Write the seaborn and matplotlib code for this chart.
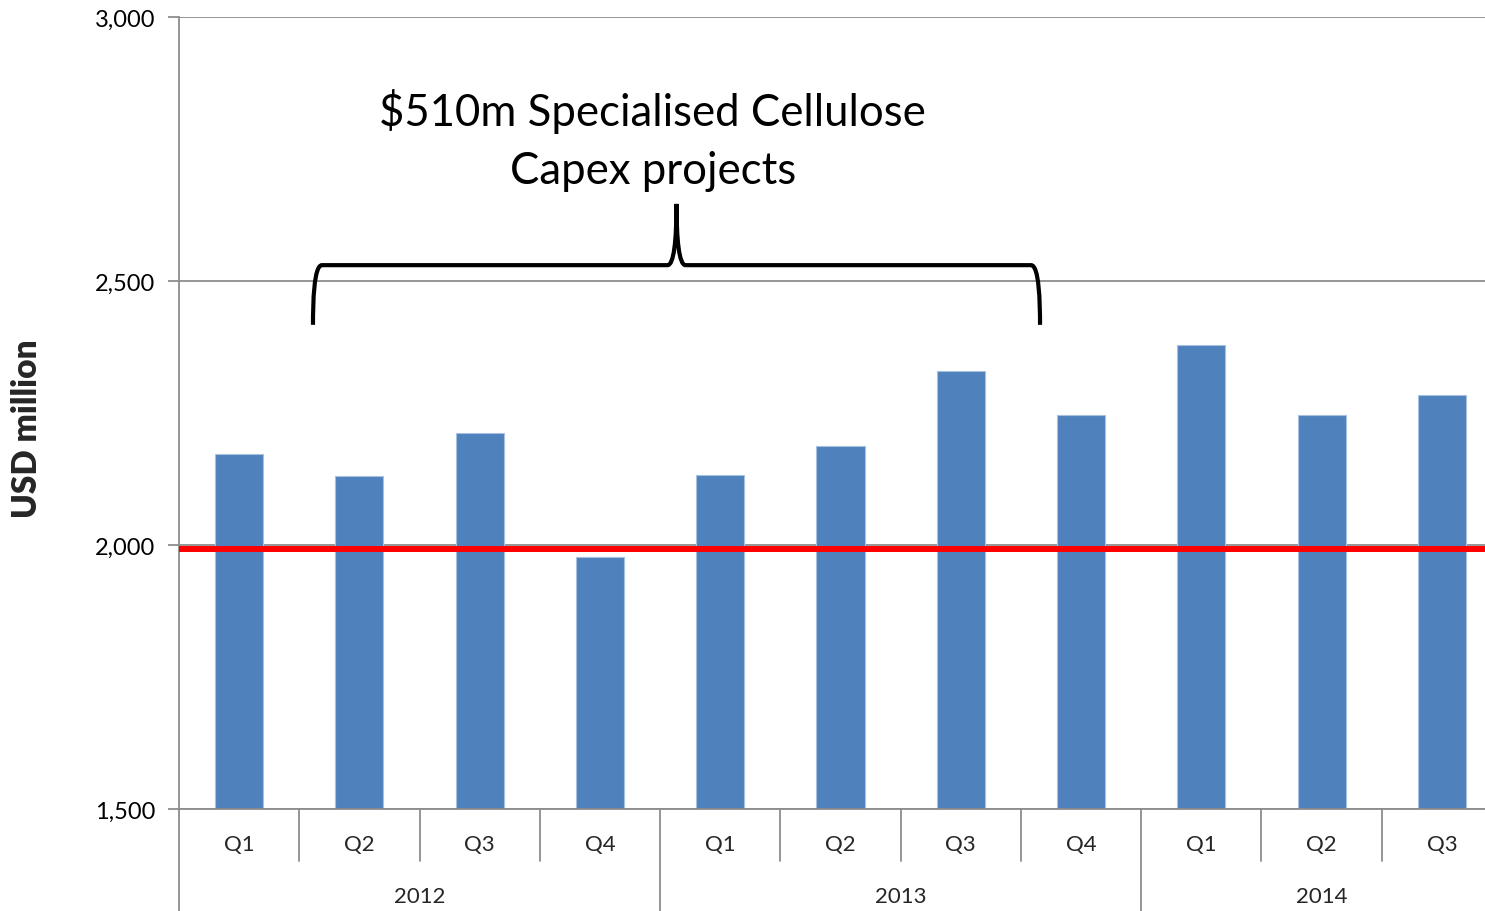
import matplotlib
matplotlib.use("Agg")
import matplotlib.pyplot as plt
from matplotlib.path import Path
from matplotlib.patches import PathPatch
import seaborn as sns
import pandas as pd

# Quarterly values, USD million
years = ["2012", "2012", "2012", "2012", "2013", "2013", "2013", "2013", "2014", "2014", "2014"]
quarters = ["Q1", "Q2", "Q3", "Q4", "Q1", "Q2", "Q3", "Q4", "Q1", "Q2", "Q3"]
values = [2172, 2131, 2212, 1977, 2133, 2188, 2330, 2246, 2379, 2246, 2284]
threshold = 1992
y_ticks = [1500, 2000, 2500, 3000]
annotation = "$510m Specialised Cellulose\nCapex projects"

df = pd.DataFrame({"year": years, "quarter": quarters, "value": values})
df["key"] = df["year"] + " " + df["quarter"]

sns.set_theme(style="white")
plt.rcParams["font.family"] = ["Lato", "DejaVu Sans"]

fig = plt.figure(figsize=(14.85, 9.12), dpi=100)
ax = fig.add_axes([179 / 1485, 1 - 810 / 912, (1502 - 179) / 1485, (810 - 18) / 912])

sns.barplot(data=df, x="key", y="value", order=list(df["key"]), color="#4F81BD",
            saturation=1, width=0.40, edgecolor="#A9C1E0", linewidth=0.8, ax=ax, zorder=2)

ax.set_ylim(y_ticks[0], y_ticks[-1])
ax.set_xlim(-0.5, len(values) - 0.5)
ax.set_yticks(y_ticks)
ax.set_yticklabels([f"{t:,}" for t in y_ticks], fontsize=17, color="black")
ax.yaxis.grid(True, color="#8C8C8C", linewidth=1.3, zorder=0)
ax.set_axisbelow(True)
ax.tick_params(axis="y", length=8, width=1.3, color="#8C8C8C", pad=9, left=True)
ax.set_xticks([])
ax.set_xlabel("")
ax.set_ylabel("USD million", fontsize=24, fontweight="heavy")
ax.yaxis.set_label_coords(-0.1025, 0.481)

for side in ("top", "right"):
    ax.spines[side].set_visible(False)
for side in ("left", "bottom"):
    ax.spines[side].set_color("#8C8C8C")
    ax.spines[side].set_linewidth(1.3)

# Threshold line
ax.axhline(threshold, color="#FF0000", linewidth=4.3, zorder=3)

# Two-level category axis: quarters above, years below
xt = ax.get_xaxis_transform()
year_starts = [i for i in range(len(years)) if i == 0 or years[i] != years[i - 1]]
for i in range(len(values) + 1):
    bound = i - 0.5
    depth = -0.131 if i in year_starts or i == len(values) else -0.0657
    ax.plot([bound, bound], [0, depth], transform=xt, color="#8C8C8C",
            linewidth=1.3, clip_on=False)
for i, q in enumerate(quarters):
    ax.text(i, -0.044, q, transform=xt, ha="center", va="center", fontsize=16)
for start in year_starts:
    end = max(j for j in range(len(years)) if years[j] == years[start])
    ax.text((start + end) / 2, -0.11, years[start], transform=xt,
            ha="center", va="center", fontsize=16)

# Curly brace spanning the capex period
def brace(ax, x0, x1, y_base, y_bar, y_tip, dx, dy_corner):
    xm = (x0 + x1) / 2
    verts = [
        (x0, y_base),
        (x0, y_bar - dy_corner), (x0 + dx * 0.1, y_bar), (x0 + dx, y_bar),
        (xm - dx, y_bar),
        (xm - dx * 0.3, y_bar), (xm, y_bar + (y_tip - y_bar) * 0.4), (xm, y_tip),
        (xm, y_bar + (y_tip - y_bar) * 0.4), (xm + dx * 0.3, y_bar), (xm + dx, y_bar),
        (x1 - dx, y_bar),
        (x1 - dx * 0.1, y_bar), (x1, y_bar - dy_corner), (x1, y_base),
    ]
    codes = [Path.MOVETO,
             Path.CURVE4, Path.CURVE4, Path.CURVE4,
             Path.LINETO,
             Path.CURVE4, Path.CURVE4, Path.CURVE4,
             Path.CURVE4, Path.CURVE4, Path.CURVE4,
             Path.LINETO,
             Path.CURVE4, Path.CURVE4, Path.CURVE4]
    ax.add_patch(PathPatch(Path(verts, codes), facecolor="none", edgecolor="black",
                           linewidth=3, clip_on=False, zorder=4, capstyle="butt"))

brace(ax, 0.614, 6.659, 2417, 2530, 2646, 0.075, 70)

ax.text(3.44, 2671, annotation, ha="center", va="bottom", fontsize=31.5,
        linespacing=1.5, color="black")

fig.savefig("out.png", dpi=100)
